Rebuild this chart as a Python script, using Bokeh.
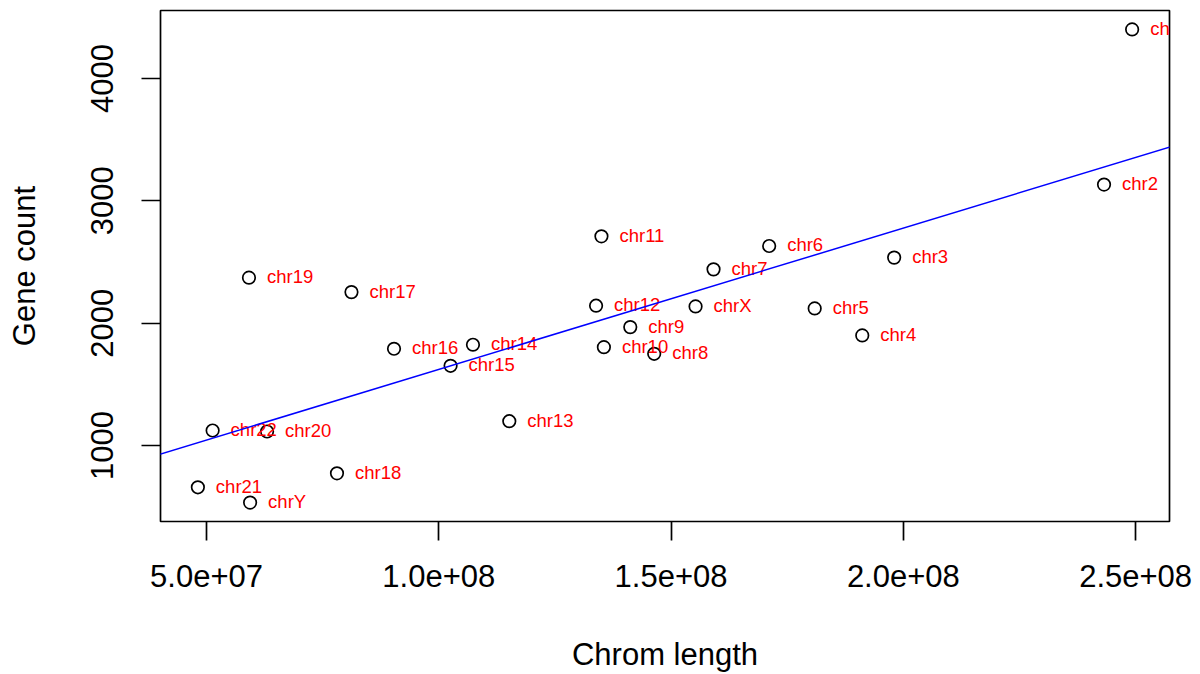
import numpy as np
from bokeh.plotting import figure
from bokeh.models import ColumnDataSource, Range1d, FixedTicker, CustomJSTickFormatter, Slope
from bokeh.core.properties import value
from bokeh.embed import file_html
from bokeh.resources import INLINE

chroms = ["chr1", "chr2", "chr3", "chr4", "chr5", "chr6", "chr7", "chr8", "chr9", "chr10",
          "chr11", "chr12", "chr13", "chr14", "chr15", "chr16", "chr17", "chr18", "chr19",
          "chr20", "chr21", "chr22", "chrX", "chrY"]
chrom_length = [249250621, 243199373, 198022430, 191154276, 180915260, 171115067, 159138663,
                146364022, 141213431, 135534747, 135006516, 133851895, 115169878, 107349540,
                102531392, 90354753, 81195210, 78077248, 59128983, 63025520, 48129895,
                51304566, 155270560, 59373566]
gene_count = [4401, 3133, 2536, 1900, 2121, 2631, 2440, 1750, 1968, 1804, 2710, 2143, 1199,
              1824, 1652, 1791, 2254, 773, 2372, 1115, 659, 1123, 2137, 534]
x_ticks = [5e7, 1e8, 1.5e8, 2e8, 2.5e8]
y_ticks = [1000, 2000, 3000, 4000]

FONT = "Liberation Sans"

x = np.array(chrom_length, dtype=float)
y = np.array(gene_count, dtype=float)
xpad = 0.04 * (x.max() - x.min())
ypad = 0.04 * (y.max() - y.min())

p = figure(width=1200, height=674, output_backend="svg", toolbar_location=None,
           x_range=Range1d(x.min() - xpad, x.max() + xpad),
           y_range=Range1d(y.min() - ypad, y.max() + ypad),
           min_border_left=160, min_border_right=31, min_border_top=10, min_border_bottom=153)
p.background_fill_color = "white"
p.border_fill_color = "white"
p.outline_line_color = "black"
p.outline_line_width = 1.7
p.xgrid.visible = False
p.ygrid.visible = False

src = ColumnDataSource(dict(x=chrom_length, y=gene_count, name=chroms))

slope, intercept = np.polyfit(x, y, 1)
p.add_layout(Slope(gradient=slope, y_intercept=intercept, line_color="#0000FF", line_width=1.5))

p.scatter("x", "y", source=src, marker="circle", size=12.5, fill_color=None,
          line_color="black", line_width=1.7)
p.text("x", "y", text="name", source=src, x_offset=18, y_offset=-1,
       text_font=value(FONT), text_font_size="18.5px", text_color="#FF0000",
       text_align="left", text_baseline="middle")

for ax in (p.xaxis[0], p.yaxis[0]):
    ax.axis_line_color = None
    ax.major_tick_in = 0
    ax.major_tick_out = 19
    ax.major_tick_line_width = 1.7
    ax.major_tick_line_color = "black"
    ax.minor_tick_line_color = None
    ax.major_label_text_font = FONT
    ax.major_label_text_font_size = "31px"
    ax.major_label_text_color = "black"
    ax.axis_label_text_font = FONT
    ax.axis_label_text_font_size = "31px"
    ax.axis_label_text_font_style = "normal"
    ax.axis_label_text_color = "black"

p.xaxis[0].ticker = FixedTicker(ticks=x_ticks)
p.xaxis[0].formatter = CustomJSTickFormatter(
    code="return tick.toExponential(1).replace(/e\\+(\\d)$/, 'e+0$1');")
p.xaxis[0].axis_label = "Chrom length"
p.xaxis[0].major_label_standoff = 24
p.xaxis[0].axis_label_standoff = 47

p.yaxis[0].ticker = FixedTicker(ticks=y_ticks)
p.yaxis[0].major_label_orientation = "vertical"
p.yaxis[0].axis_label = "Gene count"
p.yaxis[0].major_label_standoff = 28
p.yaxis[0].axis_label_standoff = 47

open("out.html", "w").write(file_html(p, INLINE))
